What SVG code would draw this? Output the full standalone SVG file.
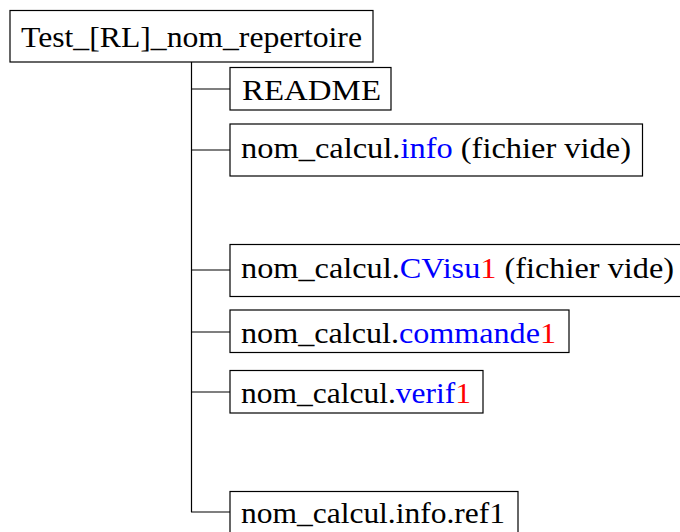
<svg xmlns="http://www.w3.org/2000/svg" width="680" height="532" viewBox="0 0 680 532">
<style>
.box{fill:#fff;stroke:#000;stroke-width:1.2}
.t{font-size:29px;fill:#000}
.b{fill:#0000ff}
.r{fill:#ff0000}
.c{stroke:#000;stroke-width:1.2;fill:none}
</style>
<rect width="680" height="532" fill="#fff"/>
<g id="connectors">
<line class="c" x1="191.5" y1="62" x2="191.5" y2="512"/>
<line class="c" x1="191" y1="89" x2="230" y2="89"/>
<line class="c" x1="191" y1="150" x2="230" y2="150"/>
<line class="c" x1="191" y1="270" x2="230" y2="270"/>
<line class="c" x1="191" y1="332" x2="230" y2="332"/>
<line class="c" x1="191" y1="392" x2="230" y2="392"/>
<line class="c" x1="191" y1="512" x2="230" y2="512"/>
</g>
<g font-family="Liberation Serif, DejaVu Serif, Times New Roman, serif">
<g id="root">
<rect class="box" x="10" y="10.5" width="363" height="51.5"/>
<text class="t" x="21" y="47" textLength="341" lengthAdjust="spacingAndGlyphs">Test_[RL]_nom_repertoire</text>
</g>
<g id="readme">
<rect class="box" x="230" y="67.5" width="161" height="42.5"/>
<text class="t" x="242" y="100" textLength="139" lengthAdjust="spacingAndGlyphs">README</text>
</g>
<g id="info">
<rect class="box" x="230" y="124" width="412.5" height="52"/>
<text class="t" x="241" y="158" textLength="390" lengthAdjust="spacingAndGlyphs">nom_calcul.<tspan class="b">info</tspan> (fichier vide)</text>
</g>
<g id="cvisu">
<rect class="box" x="230" y="244.5" width="460" height="52"/>
<text class="t" x="241" y="278" textLength="433" lengthAdjust="spacingAndGlyphs">nom_calcul.<tspan class="b">CVisu</tspan><tspan class="r">1</tspan> (fichier vide)</text>
</g>
<g id="commande">
<rect class="box" x="230" y="310" width="339" height="42.5"/>
<text class="t" x="241" y="343" textLength="315" lengthAdjust="spacingAndGlyphs">nom_calcul.<tspan class="b">commande</tspan><tspan class="r">1</tspan></text>
</g>
<g id="verif">
<rect class="box" x="230" y="370.5" width="253" height="42.5"/>
<text class="t" x="241" y="403" textLength="230" lengthAdjust="spacingAndGlyphs">nom_calcul.<tspan class="b">verif</tspan><tspan class="r">1</tspan></text>
</g>
<g id="ref1">
<rect class="box" x="230" y="491.5" width="288" height="52"/>
<text class="t" x="241" y="523" textLength="264" lengthAdjust="spacingAndGlyphs">nom_calcul.info.ref1</text>
</g>
</g>
</svg>
